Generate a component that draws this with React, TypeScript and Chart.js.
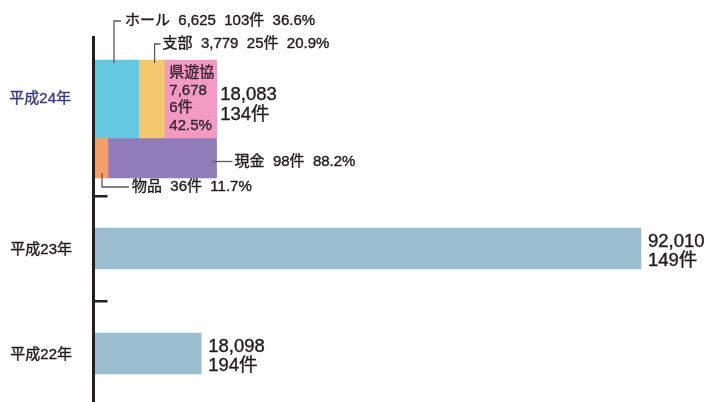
import { useEffect, useRef } from 'react';
import { Chart, registerables } from 'chart.js';

Chart.register(...registerables);

// ---- data ----
const years = ['平成24年', '平成23年', '平成22年'];
const yearTotals = [18083, 92010, 18098];
const yearCounts = [134, 149, 194];
const placeNames = ['ホール', '支部', '県遊協'];
const placeAmounts = ['6,625', '3,779', '7,678'];
const placeCounts = [103, 25, 6];
const placeShares = [36.6, 20.9, 42.5];
const kindNames = ['物品', '現金'];
const kindCounts = [36, 98];
const kindShares = [11.7, 88.2];

// ---- layout / style config ----
const ROW_POS = [0, 1, 2];
const UPPER_POS = -0.424;
const LOWER_POS = 0.138;
const placeColors = ['#64c8e1', '#f4c86d', '#f39ac3'];
const kindColors = ['#f69f68', '#8f7cb8'];
const pastColor = '#9abdcf';
const INK = '#231f20';
const LEAD = '#5a5a5a';
const LATIN = '"Liberation Sans", "Noto Sans CJK JP", sans-serif';

const fmt = (n: number) => n.toLocaleString('en-US');

const drawText = (ctx: CanvasRenderingContext2D, t: string, x: number, y: number) => {
  ctx.fillText(t, x, y);
  ctx.save();
  ctx.lineWidth = 0.4;
  ctx.strokeStyle = ctx.fillStyle as string;
  ctx.strokeText(t, x, y);
  ctx.restore();
};

const annotPlugin = {
  id: 'annot',
  afterDraw(chart: any) {
    const ctx: CanvasRenderingContext2D = chart.ctx;
    const ys = chart.scales.y;
    const area = chart.chartArea;
    const el = (di: number, i = 0) =>
      chart.getDatasetMeta(di).data[i].getProps(['x', 'y', 'base', 'height'], true);

    ctx.save();
    // separators
    ctx.strokeStyle = INK;
    ctx.lineWidth = 2.5;
    [0.5, 1.5].forEach((v) => {
      const py = Math.round(ys.getPixelForValue(v)) + 0.25;
      ctx.beginPath();
      ctx.moveTo(area.left, py);
      ctx.lineTo(area.left + 14, py);
      ctx.stroke();
    });

    // year labels
    ctx.font = `15px ${LATIN}`;
    ctx.textAlign = 'right';
    ctx.textBaseline = 'middle';
    const up0 = el(0);
    ctx.fillStyle = '#3b3e7e';
    drawText(ctx, years[0], 71, up0.y - 0.5);
    ctx.fillStyle = INK;
    drawText(ctx, years[1], 72, ys.getPixelForValue(ROW_POS[1]) + 1.5);
    drawText(ctx, years[2], 72, ys.getPixelForValue(ROW_POS[2]) + 1.5);

    ctx.textAlign = 'left';
    const upperTop = up0.y - up0.height / 2;
    const sep = '  ';
    ctx.strokeStyle = LEAD;
    ctx.lineWidth = 1.3;

    // ホール leader
    const lx0 = up0.base + 20.5;
    ctx.beginPath();
    ctx.moveTo(lx0, upperTop + 3);
    ctx.lineTo(lx0, 21);
    ctx.lineTo(lx0 + 7, 21);
    ctx.stroke();
    ctx.fillStyle = INK;
    ctx.font = `15px ${LATIN}`;
    drawText(
      ctx,
      [placeNames[0], placeAmounts[0], `${placeCounts[0]}件`, `${placeShares[0]}%`].join(sep),
      lx0 + 11,
      21
    );

    // 支部 leader
    const e1 = el(1);
    const lx1 = e1.base + 16;
    ctx.beginPath();
    ctx.moveTo(lx1, upperTop + 3);
    ctx.lineTo(lx1, 44);
    ctx.lineTo(lx1 + 6, 44);
    ctx.stroke();
    drawText(
      ctx,
      [placeNames[1], placeAmounts[1], `${placeCounts[1]}件`, `${placeShares[1]}%`].join(sep),
      lx1 + 8,
      44
    );

    // 県遊協 inside
    const e2 = el(2);
    ctx.fillStyle = '#3a2733';
    const lines = [placeNames[2], placeAmounts[2], `${placeCounts[2]}件`, `${placeShares[2]}%`];
    lines.forEach((t, i) => drawText(ctx, t, e2.base + 5, upperTop + 13 + i * 17.5));

    // total for 24
    ctx.fillStyle = INK;
    ctx.font = `18.5px ${LATIN}`;
    drawText(ctx, fmt(yearTotals[0]), e2.x + 3.5, up0.y - 4);
    drawText(ctx, `${yearCounts[0]}件`, e2.x + 3.5, up0.y + 16);

    // lower bar labels
    const k0 = el(3);
    const k1 = el(4);
    const lowerBottom = k0.y + k0.height / 2;
    ctx.font = `15px ${LATIN}`;
    ctx.strokeStyle = LEAD;
    ctx.lineWidth = 1.3;
    // 現金
    ctx.beginPath();
    ctx.moveTo(k1.x - 4, k1.y + 3.5);
    ctx.lineTo(k1.x + 16, k1.y + 3.5);
    ctx.stroke();
    drawText(ctx, [kindNames[1], `${kindCounts[1]}件`, `${kindShares[1]}%`].join(sep), k1.x + 18, k1.y + 3.5);
    // 物品
    const kx = k0.base + 8.5;
    ctx.strokeStyle = LEAD;
    ctx.lineWidth = 1.3;
    ctx.beginPath();
    ctx.moveTo(kx, lowerBottom - 5);
    ctx.lineTo(kx, 187);
    ctx.lineTo(kx + 27, 187);
    ctx.stroke();
    drawText(ctx, [kindNames[0], `${kindCounts[0]}件`, `${kindShares[0]}%`].join(sep), kx + 30, 187);

    // past years
    ctx.font = `18.5px ${LATIN}`;
    [0, 1].forEach((i) => {
      const p = el(5, i);
      drawText(ctx, fmt(yearTotals[i + 1]), p.x + 7, p.y - 7);
      drawText(ctx, `${yearCounts[i + 1]}件`, p.x + 7, p.y + 12);
    });
    ctx.restore();
  },
};

export default function App() {
  const ref = useRef<HTMLCanvasElement>(null);
  useEffect(() => {
    if (!ref.current) return;
    const datasets: any[] = [];
    placeNames.forEach((name, i) => {
      datasets.push({
        label: name,
        data: [{ x: placeShares[i], y: UPPER_POS }],
        backgroundColor: placeColors[i],
        xAxisID: 'x2',
        stack: 'upper',
        barThickness: 78,
        grouped: false,
      });
    });
    kindNames.forEach((name, i) => {
      datasets.push({
        label: name,
        data: [{ x: kindShares[i], y: LOWER_POS }],
        backgroundColor: kindColors[i],
        xAxisID: 'x2',
        stack: 'lower',
        barThickness: 40,
        grouped: false,
      });
    });
    datasets.push({
      label: '合計',
      data: [
        { x: yearTotals[1], y: ROW_POS[1] },
        { x: yearTotals[2], y: ROW_POS[2] },
      ],
      backgroundColor: pastColor,
      xAxisID: 'x',
      barThickness: 41,
      grouped: false,
    });

    const chart = new Chart(ref.current, {
      type: 'bar',
      data: { datasets },
      options: {
        indexAxis: 'y',
        animation: false,
        responsive: false,
        layout: { padding: { left: 93.5, right: 17.5, top: 37, bottom: 0 } },
        plugins: { legend: { display: false }, tooltip: { enabled: false } },
        scales: {
          y: {
            type: 'linear',
            reverse: true,
            offset: false,
            min: -1.0143,
            max: 2.4619,
            ticks: { display: false },
            grid: { display: false, drawTicks: false, offset: false },
            border: { display: true, color: INK, width: 3, z: 1 },
          },
          x: {
            type: 'linear',
            min: 0,
            max: 100000,
            display: false,
          },
          x2: {
            type: 'linear',
            min: 0,
            max: 483,
            stacked: true,
            display: false,
          },
        },
      } as any,
      plugins: [annotPlugin],
    });
    return () => chart.destroy();
  }, []);

  return (
    <div style={{ position: 'absolute', left: 0, top: 0, width: 706, height: 402, background: '#fff' }}>
      <canvas ref={ref} width={706} height={402} style={{ display: 'block' }} />
    </div>
  );
}
